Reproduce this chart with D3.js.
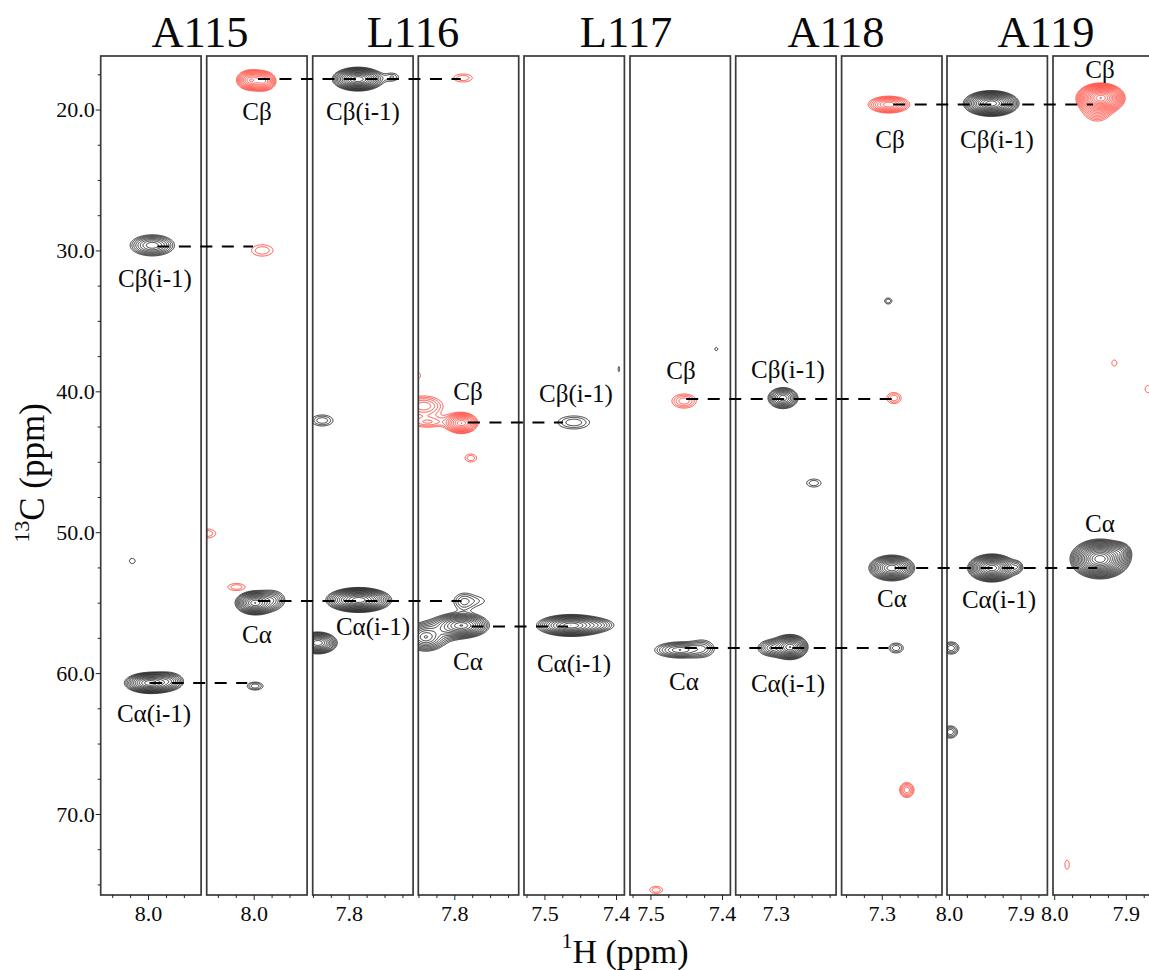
<!DOCTYPE html>
<html>
<head>
<meta charset="utf-8">
<script src="https://cdn.jsdelivr.net/npm/d3@7"></script>
<style>
html,body{margin:0;padding:0;background:#fff;overflow:hidden}
svg{display:block}
text{font-family:"Liberation Serif","Times New Roman",serif;fill:#0a0a0a}
</style>
</head>
<body>
<svg id="chart" width="1149" height="970"></svg>
<script>
// ---------- values (ppm) ----------
const residues = ["A115", "L116", "L117", "A118", "A119"];
const panelStartH = [8.0661, 8.0656, 7.8503, 7.8503, 7.5285, 7.5285, 7.3561, 7.3561, 8.0027, 8.0017];
const panelSpanH = 0.1402;
const majorTicksH = [[8.0],[8.0],[7.8],[7.8],[7.5,7.4],[7.5,7.4],[7.3],[7.3],[8.0,7.9],[8.0,7.9]];
const carbonDomain = [16.2, 75.75];
const carbonMajor = [20, 30, 40, 50, 60, 70];
const carbonMinor = [17.5, 22.5, 25, 27.5, 32.5, 35, 37.5, 42.5, 45, 47.5, 52.5, 55, 57.5, 62.5, 65, 67.5, 72.5, 75];

// [panel, 1H, 13C, half-width 1H, half-width 13C, contour levels]
const peaksBlack = [
 [0,7.994,29.64,.031,.75,8],[0,8.022,52.04,.004,.18,1],[0,7.997,60.70,.036,.75,12],[0,7.972,60.56,.020,.57,6],
 [1,7.998,55.02,.028,.85,12],[1,7.974,54.81,.017,.64,5],[1,7.998,60.92,.011,.28,3],
 [2,7.787,17.84,.036,.85,13],[2,7.739,17.69,.008,.25,2],[2,7.786,54.81,.046,.89,14],[2,7.843,57.86,.027,.78,11],[2,7.837,42.07,.015,.39,3],
 [3,7.787,54.95,.008,.40,2],[3,7.772,54.88,.013,.25,1],[3,7.790,56.62,.039,.89,12],[3,7.840,57.44,.028,1.0,9],[3,7.814,56.94,.021,.64,4],
 [4,7.459,42.21,.022,.46,3],[4,7.463,56.62,.048,.78,12],[4,7.425,56.59,.018,.32,3],[4,7.396,38.42,.001,.18,1],
 [5,7.408,37.0,.002,.11,1],[5,7.459,58.36,.035,.57,7],[5,7.427,58.22,.013,.50,3],
 [6,7.290,40.48,.021,.75,9],[6,7.247,46.51,.010,.28,2],[6,7.280,58.15,.025,.89,12],[6,7.305,58.22,.020,.57,6],
 [7,7.291,33.59,.005,.21,2],[7,7.286,52.54,.032,.92,12],[7,7.280,58.22,.010,.35,3],
 [8,7.941,19.57,.039,.92,14],[8,7.940,52.54,.034,1.0,14],[8,7.905,52.47,.007,.35,3],[8,7.997,58.22,.011,.43,4],[8,7.998,64.18,.010,.43,4],
 [9,7.936,51.90,.042,1.42,17],[9,7.908,51.40,.013,.57,6]
];
const peaksRed = [
 [1,8.004,17.91,.020,.72,9],[1,7.986,17.98,.017,.68,8],[1,7.988,30.0,.015,.40,2],[1,8.065,50.09,.012,.32,2],[1,8.024,53.89,.012,.25,2],
 [3,7.788,17.76,.013,.28,2],[3,7.790,42.25,.023,.75,10],[3,7.843,41.04,.027,.71,5],[3,7.837,42.18,.022,.35,3],[3,7.851,38.88,.004,.2,1],[3,7.777,44.73,.008,.28,2],
 [5,7.453,40.69,.017,.50,4],[5,7.492,75.39,.009,.25,2],
 [7,7.290,19.65,.029,.60,8],[7,7.283,40.48,.010,.39,3],[7,7.265,68.30,.010,.53,5],
 [9,7.935,19.18,.034,1.06,16],[9,7.940,19.89,.020,.92,6],[9,7.916,37.99,.0035,.21,1],[9,7.869,39.84,.004,.25,1],[9,7.982,73.6,.003,.32,1]
];
// sequential-walk connectors: [panel A, 1H A, panel B, 1H B, 13C]
const walkLines = [
 [0,7.987,1,8.001,29.72],[1,7.994,3,7.791,17.84],[1,7.994,3,7.790,54.88],[0,7.997,1,8.009,60.70],
 [3,7.776,4,7.467,56.69],[3,7.781,4,7.474,42.21],[5,7.450,7,7.284,40.55],[5,7.452,7,7.291,58.22],
 [7,7.284,9,7.946,19.65],[7,7.282,9,7.940,52.54]
];
const peakLabels = ["Cβ(i-1)","Cα(i-1)","Cβ","Cα","Cβ(i-1)","Cα(i-1)","Cβ","Cα","Cβ(i-1)","Cα(i-1)","Cβ","Cα","Cβ(i-1)","Cα(i-1)","Cβ","Cα","Cβ(i-1)","Cα(i-1)","Cβ","Cα"];

// ---------- layout ----------
const panelLeft = [100.7,206.7,312.7,418.3,524,630,735.7,841.6,947,1053];
const panelW = 100.4, plotTop = 56, plotBottom = 895;
const titleX = [200,413,626,836,1046];
const labelX = [155,154,257,257,363,373,468,468,576,574,681,684,788,788,890,892,997,999,1100,1100];
const labelY = [287,722,120,643,120,635,400,670,402,672,379,690,378,692,148,607,148,608,78,532];

const svg = d3.select("#chart");
const y = d3.scaleLinear().domain(carbonDomain).range([plotTop, plotBottom]);
const xs = panelStartH.map((h,i)=>d3.scaleLinear().domain([h,h-panelSpanH]).range([panelLeft[i],panelLeft[i]+panelW]));

const defs = svg.append("defs");
panelLeft.forEach((l,i)=>defs.append("clipPath").attr("id","clip"+i).append("rect")
  .attr("x",l).attr("y",plotTop).attr("width",panelW).attr("height",plotBottom-plotTop));

// ---------- contours ----------
const RATIO = 1.3, BASE = 1, GRID = 2, SHAPE = 1.6;
function drawContours(peaks,color,p){
  const list = peaks.filter(d=>d[0]===p);
  if(!list.length) return;
  const nx = Math.round(panelW*GRID), ny = Math.round((plotBottom-plotTop)*GRID);
  const items = list.map(d=>{
    const s = Math.pow(d[5]*Math.log(RATIO),1/SHAPE);
    return {px:xs[p](d[1]),py:y(d[2]),
      sx:Math.abs(xs[p](d[1]+d[3])-xs[p](d[1]))/s, sy:Math.abs(y(d[2]+d[4])-y(d[2]))/s,
      a:BASE*Math.pow(RATIO,d[5])};
  });
  const field = new Float64Array(nx*ny);
  items.forEach(it=>{
    const rx=it.sx*5.5, ry=it.sy*5.5;
    const i0=Math.max(0,Math.floor((it.px-rx-panelLeft[p])*GRID)), i1=Math.min(nx-1,Math.ceil((it.px+rx-panelLeft[p])*GRID));
    const j0=Math.max(0,Math.floor((it.py-ry-plotTop)*GRID)), j1=Math.min(ny-1,Math.ceil((it.py+ry-plotTop)*GRID));
    for(let j=j0;j<=j1;j++){
      const dy=(plotTop+(j+.5)/GRID-it.py)/it.sy;
      for(let i=i0;i<=i1;i++){
        const dx=(panelLeft[p]+(i+.5)/GRID-it.px)/it.sx;
        field[j*nx+i]+=it.a*Math.exp(-Math.pow(dx*dx+dy*dy,SHAPE/2));
      }
    }
  });
  const maxV = d3.max(field);
  const levels=[];
  for(let v=BASE;v<maxV;v*=RATIO) levels.push(v);
  const polys = d3.contours().size([nx,ny]).thresholds(levels)(field);
  const path = d3.geoPath(d3.geoTransform({point(a,b){this.stream.point(panelLeft[p]+a/GRID,plotTop+b/GRID);}}));
  svg.append("g").attr("clip-path",`url(#clip${p})`).selectAll("path").data(polys).join("path")
    .attr("d",path).attr("fill","none").attr("stroke",color).attr("stroke-width",.8);
}
panelLeft.forEach((_,p)=>{drawContours(peaksRed,"#ff2a1c",p);drawContours(peaksBlack,"#000",p);});

// ---------- frames and axes ----------
const frameColor="#3a3a3a";
panelLeft.forEach((l,i)=>{
  svg.append("rect").attr("x",l).attr("y",plotTop).attr("width",panelW).attr("height",plotBottom-plotTop)
    .attr("fill","none").attr("stroke",frameColor).attr("stroke-width",1.7);
  const x=xs[i], lo=x.domain()[1], hi=x.domain()[0];
  const minors=d3.range(Math.ceil(lo*40),Math.floor(hi*40)+1).map(k=>k/40)
     .filter(v=>!majorTicksH[i].some(m=>Math.abs(m-v)<1e-6));
  const gMin=svg.append("g").attr("transform",`translate(0,${plotBottom})`)
    .call(d3.axisBottom(x).tickValues(minors).tickSize(3).tickFormat(""));
  gMin.select(".domain").remove();
  const gMaj=svg.append("g").attr("transform",`translate(0,${plotBottom})`)
    .call(d3.axisBottom(x).tickValues(majorTicksH[i]).tickSize(5).tickPadding(5).tickFormat(d3.format(".1f")));
  gMaj.select(".domain").remove();
  gMaj.selectAll("text").attr("font-size",22).style("font-family",'"Liberation Serif",serif').style("fill","#0a0a0a");
});
const gyMin=svg.append("g").attr("transform",`translate(${panelLeft[0]},0)`)
  .call(d3.axisLeft(y).tickValues(carbonMinor).tickSize(3).tickFormat(""));
gyMin.select(".domain").remove();
const gyMaj=svg.append("g").attr("transform",`translate(${panelLeft[0]},0)`)
  .call(d3.axisLeft(y).tickValues(carbonMajor).tickSize(5).tickPadding(1).tickFormat(d3.format(".1f")));
gyMaj.select(".domain").remove();
gyMaj.selectAll("text").attr("font-size",22).style("font-family",'"Liberation Serif",serif').style("fill","#0a0a0a");
svg.selectAll("g .tick line").attr("stroke","#222").attr("stroke-width",1);

// ---------- connectors ----------
svg.append("g").selectAll("line").data(walkLines).join("line")
  .attr("x1",d=>xs[d[0]](d[1])).attr("x2",d=>xs[d[2]](d[3]))
  .attr("y1",d=>y(d[4])).attr("y2",d=>y(d[4]))
  .attr("stroke","#000").attr("stroke-width",2).attr("stroke-dasharray","12 9.5");

// ---------- texts ----------
svg.append("g").selectAll("text").data(residues).join("text")
  .attr("x",(d,i)=>titleX[i]).attr("y",47).attr("text-anchor","middle").attr("font-size",44.5).text(d=>d);
svg.append("g").selectAll("text").data(peakLabels).join("text")
  .attr("x",(d,i)=>labelX[i]).attr("y",(d,i)=>labelY[i]).attr("text-anchor","middle").attr("font-size",25).text(d=>d);

const xl=svg.append("text").attr("x",625).attr("y",962.5).attr("text-anchor","middle").attr("font-size",34);
xl.append("tspan").attr("font-size",22).attr("dy",-15).text("1");
xl.append("tspan").attr("dy",15).text("H (ppm)");
const yl=svg.append("text").attr("transform","translate(44,473) rotate(-90)").attr("text-anchor","middle").attr("font-size",35);
yl.append("tspan").attr("font-size",22).attr("dy",-15).text("13");
yl.append("tspan").attr("dy",15).text("C (ppm)");
</script>
</body>
</html>
